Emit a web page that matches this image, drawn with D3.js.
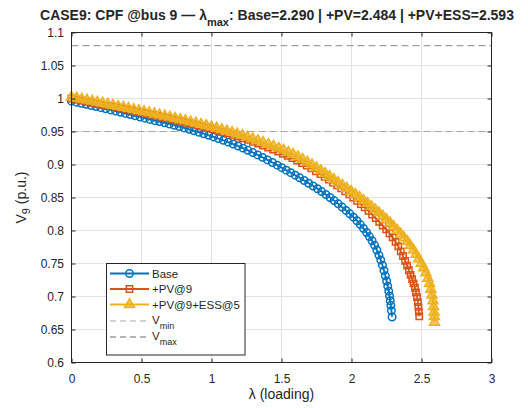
<!DOCTYPE html>
<html>
<head>
<meta charset="utf-8">
<script src="https://cdn.jsdelivr.net/npm/d3@7"></script>
<style>
    body { margin: 0; background: #fff; }
    svg text { font-family: "Liberation Sans", Arial, Helvetica, sans-serif; fill: #262626; }
</style>
</head>
<body>
<div id="chart"></div>
<script>
// CPF nose curves (lambda, V at bus 9)
const baseLambda = [0, 0.035, 0.07, 0.105, 0.14, 0.175, 0.21, 0.245, 0.28, 0.315, 0.35, 0.385, 0.42, 0.455, 0.49,
    0.525, 0.56, 0.595, 0.63, 0.665, 0.70, 0.735, 0.77, 0.805, 0.84, 0.875, 0.91, 0.945, 0.98,
    1.015, 1.05, 1.085, 1.12, 1.155, 1.19, 1.225, 1.26, 1.295, 1.33, 1.365, 1.40, 1.435, 1.47,
    1.502, 1.534, 1.566, 1.598, 1.63, 1.662, 1.694, 1.726, 1.757, 1.787, 1.817, 1.847, 1.876, 1.905, 1.933, 1.961, 1.988,
    2.014, 2.039, 2.063, 2.086, 2.108, 2.128, 2.147, 2.165, 2.181, 2.196, 2.209, 2.221, 2.232, 2.242,
    2.251, 2.259, 2.266, 2.272, 2.277, 2.281, 2.285, 2.290];
const baseV = [0.9960, 0.9944, 0.9928, 0.9911, 0.9894, 0.9878, 0.9861, 0.9844, 0.9827, 0.9809, 0.9792, 0.9774, 0.9756, 0.9738, 0.9720,
    0.9702, 0.9683, 0.9664, 0.9650, 0.9632, 0.9614, 0.9595, 0.9575, 0.9554, 0.9533, 0.9511, 0.9489, 0.9466, 0.9442,
    0.9418, 0.9393, 0.9367, 0.9339, 0.9310, 0.9280, 0.9248, 0.9215, 0.9181, 0.9145, 0.9108, 0.9070, 0.9030, 0.8990,
    0.8952, 0.8914, 0.8876, 0.8838, 0.8798, 0.8757, 0.8716, 0.8674, 0.8632, 0.8590, 0.8546, 0.8500, 0.8453, 0.8404, 0.8355, 0.8304, 0.8253,
    0.8202, 0.8148, 0.8090, 0.8031, 0.7970, 0.7908, 0.7844, 0.7775, 0.7704, 0.7627, 0.7554, 0.7475, 0.7394, 0.7313,
    0.7235, 0.7157, 0.7081, 0.7009, 0.6935, 0.6866, 0.6786, 0.6690];

const pvLambda = [0, 0.036, 0.072, 0.108, 0.144, 0.18, 0.216, 0.252, 0.288, 0.324, 0.36, 0.396, 0.432, 0.468,
    0.504, 0.54, 0.576, 0.612, 0.648, 0.684, 0.72, 0.756, 0.792, 0.828, 0.864, 0.90, 0.936, 0.972,
    1.008, 1.044, 1.08, 1.116, 1.152, 1.188, 1.224, 1.26, 1.296, 1.332, 1.368, 1.404, 1.44, 1.476,
    1.51, 1.544, 1.578, 1.612, 1.646, 1.68, 1.713, 1.746, 1.778, 1.808, 1.838, 1.868, 1.897, 1.926, 1.955, 1.984,
    2.012, 2.04, 2.067, 2.094, 2.121, 2.147, 2.173, 2.198, 2.223, 2.247, 2.271,
    2.294, 2.315, 2.334, 2.352, 2.368, 2.383, 2.397, 2.41, 2.422, 2.433, 2.443,
    2.453, 2.461, 2.468, 2.474, 2.478, 2.481, 2.484];
const pvV = [1.0000, 0.9984, 0.9968, 0.9952, 0.9936, 0.9919, 0.9903, 0.9887, 0.9880, 0.9865, 0.9850, 0.9834, 0.9818, 0.9802,
    0.9786, 0.9770, 0.9753, 0.9736, 0.9719, 0.9702, 0.9684, 0.9666, 0.9648, 0.9630, 0.9611, 0.9592, 0.9573, 0.9554,
    0.9535, 0.9514, 0.9493, 0.9471, 0.9448, 0.9423, 0.9398, 0.9372, 0.9344, 0.9316, 0.9286, 0.9256, 0.9225, 0.9194,
    0.9162, 0.9130, 0.9096, 0.9060, 0.9022, 0.8982, 0.8941, 0.8898, 0.8855, 0.8813, 0.8770, 0.8727, 0.8683, 0.8639, 0.8593, 0.8547,
    0.8500, 0.8451, 0.8402, 0.8351, 0.8297, 0.8243, 0.8187, 0.8131, 0.8074, 0.8017, 0.7958,
    0.7895, 0.7828, 0.7759, 0.7685, 0.7614, 0.7541, 0.7469, 0.7398, 0.7328, 0.7262, 0.7199,
    0.7133, 0.7062, 0.6990, 0.6916, 0.6843, 0.6770, 0.6700];

const essLambda = [0, 0.037, 0.074, 0.111, 0.148, 0.185, 0.222, 0.259, 0.296, 0.333, 0.37, 0.407, 0.444, 0.481,
    0.518, 0.555, 0.592, 0.629, 0.666, 0.703, 0.74, 0.777, 0.814, 0.851, 0.888, 0.925, 0.962, 0.999,
    1.036, 1.073, 1.11, 1.147, 1.184, 1.221, 1.258, 1.295, 1.332, 1.369, 1.406, 1.443, 1.48,
    1.515, 1.549, 1.583, 1.617, 1.651, 1.685, 1.718, 1.75, 1.781, 1.812, 1.843, 1.874, 1.905, 1.936, 1.967, 1.998,
    2.028, 2.057, 2.086, 2.114, 2.142, 2.17, 2.197, 2.224, 2.25, 2.276, 2.302, 2.327, 2.352, 2.376,
    2.399, 2.421, 2.442, 2.462, 2.481, 2.499, 2.516,
    2.532, 2.546, 2.5575, 2.567, 2.575, 2.5815, 2.5865, 2.5903, 2.5925, 2.593];
const essV = [1.0020, 1.0005, 0.9990, 0.9975, 0.9960, 0.9945, 0.9929, 0.9914, 0.9898, 0.9882, 0.9867, 0.9851, 0.9834, 0.9818,
    0.9802, 0.9786, 0.9769, 0.9752, 0.9735, 0.9717, 0.9700, 0.9682, 0.9664, 0.9646, 0.9627, 0.9608, 0.9590, 0.9571,
    0.9551, 0.9530, 0.9509, 0.9487, 0.9463, 0.9440, 0.9415, 0.9389, 0.9362, 0.9335, 0.9306, 0.9277, 0.9247,
    0.9217, 0.9186, 0.9153, 0.9117, 0.9078, 0.9036, 0.8994, 0.8950, 0.8906, 0.8863, 0.8818, 0.8774, 0.8729, 0.8684, 0.8639, 0.8593,
    0.8548, 0.8503, 0.8457, 0.8411, 0.8364, 0.8315, 0.8267, 0.8218, 0.8167, 0.8114, 0.8059, 0.8004, 0.7947, 0.7889,
    0.7832, 0.7770, 0.7705, 0.7639, 0.7571, 0.7502, 0.7433,
    0.7358, 0.7277, 0.7194, 0.7109, 0.7021, 0.6933, 0.6848, 0.6764, 0.6694, 0.6610];

const seriesNames = ["Base", "+PV@9", "+PV@9+ESS@5"];
const seriesColors = ["#0072BD", "#D95319", "#EDB120"];
const lambdaMax = [2.290, 2.484, 2.593];

const vMin = 0.95;
const vMax = 1.08;

const xTicks = [0, 0.5, 1, 1.5, 2, 2.5, 3];
const xTickLabels = ["0", "0.5", "1", "1.5", "2", "2.5", "3"];
const yTicks = [0.6, 0.65, 0.7, 0.75, 0.8, 0.85, 0.9, 0.95, 1.0, 1.05, 1.1];
const yTickLabels = ["0.6", "0.65", "0.7", "0.75", "0.8", "0.85", "0.9", "0.95", "1", "1.05", "1.1"];

const W = 528, H = 408;
const plot = {left: 71.5, right: 491.5, top: 32.5, bottom: 362.5};
const axisColor = "#262626";

const svg = d3.select("#chart").append("svg")
    .attr("width", W)
    .attr("height", H)
    .attr("viewBox", `0 0 ${W} ${H}`);

svg.append("rect").attr("width", W).attr("height", H).attr("fill", "#fff");

const x = d3.scaleLinear().domain([0, 3]).range([plot.left, plot.right]);
const y = d3.scaleLinear().domain([0.6, 1.1]).range([plot.bottom, plot.top]);

// grid
const grid = svg.append("g").attr("stroke", "#e3e3e3").attr("stroke-width", 1);
grid.selectAll(".gx").data(xTicks).enter().append("line")
    .attr("x1", d => x(d)).attr("x2", d => x(d))
    .attr("y1", plot.top).attr("y2", plot.bottom);
grid.selectAll(".gy").data(yTicks).enter().append("line")
    .attr("x1", plot.left).attr("x2", plot.right)
    .attr("y1", d => y(d)).attr("y2", d => y(d));

// voltage limits
const limits = [{v: vMin, color: "#a6a6a6"}, {v: vMax, color: "#8a8a8a"}];
svg.selectAll(".limit").data(limits).enter().append("line")
    .attr("x1", x(0)).attr("x2", x(3))
    .attr("y1", d => y(d.v)).attr("y2", d => y(d.v))
    .attr("stroke", d => d.color)
    .attr("stroke-width", 1)
    .attr("stroke-dasharray", "7,4");

// series
const series = [
    {name: seriesNames[0], color: seriesColors[0], symbol: d3.symbolCircle, size: 44, fill: "none", pts: d3.zip(baseLambda, baseV)},
    {name: seriesNames[1], color: seriesColors[1], symbol: d3.symbolSquare, size: 40, fill: "none", pts: d3.zip(pvLambda, pvV)},
    {name: seriesNames[2], color: seriesColors[2], symbol: d3.symbolTriangle, size: 44, fill: seriesColors[2], pts: d3.zip(essLambda, essV)}
];

const line = d3.line().x(d => x(d[0])).y(d => y(d[1]));

series.forEach(s => {
    const g = svg.append("g");
    g.append("path")
        .datum(s.pts)
        .attr("fill", "none")
        .attr("stroke", s.color)
        .attr("stroke-width", 1.8)
        .attr("d", line);
    const shape = d3.symbol().type(s.symbol).size(s.size)();
    g.selectAll("path.mk").data(s.pts).enter().append("path")
        .attr("class", "mk")
        .attr("d", shape)
        .attr("transform", d => `translate(${x(d[0])},${y(d[1])})`)
        .attr("fill", s.fill)
        .attr("fill-opacity", 0.7)
        .attr("stroke", s.color)
        .attr("stroke-width", 1.5);
});

// axes (ticks inside, box on)
function styleAxis(g) {
    g.select(".domain").remove();
    g.selectAll("line").attr("stroke", axisColor);
    g.selectAll("text").attr("fill", axisColor)
        .attr("font-family", "'Liberation Sans', Arial, sans-serif")
        .attr("font-size", 12);
}

svg.append("g").attr("transform", `translate(0,${plot.bottom})`)
    .call(d3.axisBottom(x).tickValues(xTicks).tickFormat((d, i) => xTickLabels[i])
        .tickSizeInner(-4).tickSizeOuter(0).tickPadding(12))
    .call(styleAxis);
svg.append("g").attr("transform", `translate(0,${plot.top})`)
    .call(d3.axisTop(x).tickValues(xTicks).tickFormat("").tickSizeInner(-4).tickSizeOuter(0))
    .call(styleAxis);
svg.append("g").attr("transform", `translate(${plot.left},0)`)
    .call(d3.axisLeft(y).tickValues(yTicks).tickFormat((d, i) => yTickLabels[i])
        .tickSizeInner(-4).tickSizeOuter(0).tickPadding(7.5))
    .call(styleAxis);
svg.append("g").attr("transform", `translate(${plot.right},0)`)
    .call(d3.axisRight(y).tickValues(yTicks).tickFormat("").tickSizeInner(-4).tickSizeOuter(0))
    .call(styleAxis);

svg.append("rect")
    .attr("x", plot.left).attr("y", plot.top)
    .attr("width", plot.right - plot.left).attr("height", plot.bottom - plot.top)
    .attr("fill", "none")
    .attr("stroke", axisColor)
    .attr("stroke-width", 1);

// labels
svg.append("text")
    .attr("x", (plot.left + plot.right) / 2)
    .attr("y", 399)
    .attr("text-anchor", "middle")
    .style("font-size", "14px")
    .text("λ (loading)");

const yLabel = svg.append("text")
    .attr("transform", `translate(26,${(plot.top + plot.bottom) / 2}) rotate(-90)`)
    .attr("text-anchor", "middle")
    .style("font-size", "14px");
yLabel.append("tspan").text("V");
yLabel.append("tspan").attr("dy", 4).style("font-size", "11px").text("9");
yLabel.append("tspan").attr("dy", -4).text(" (p.u.)");

const title = svg.append("text")
    .attr("x", 277)
    .attr("y", 20)
    .attr("text-anchor", "middle")
    .style("font-size", "14px")
    .style("font-weight", "bold");
title.append("tspan").text("CASE9: CPF @bus 9 — λ");
title.append("tspan").attr("dy", 6).style("font-size", "11px").text("max");
title.append("tspan").attr("dy", -6)
    .text(`: Base=${lambdaMax[0].toFixed(3)} | +PV=${lambdaMax[1].toFixed(3)} | +PV+ESS=${lambdaMax[2].toFixed(3)}`);

// legend
const lg = svg.append("g");
lg.append("rect")
    .attr("x", 106.5).attr("y", 263.5)
    .attr("width", 138.5).attr("height", 91.5)
    .attr("fill", "#fff")
    .attr("stroke", axisColor)
    .attr("stroke-width", 1);

const rows = [273.5, 289, 304.5, 321, 337];
series.forEach((s, i) => {
    const ry = rows[i];
    lg.append("line")
        .attr("x1", 110).attr("x2", 149).attr("y1", ry).attr("y2", ry)
        .attr("stroke", s.color).attr("stroke-width", 1.8);
    lg.append("path")
        .attr("d", d3.symbol().type(s.symbol).size(s.size)())
        .attr("transform", `translate(129.5,${ry})`)
        .attr("fill", s.fill).attr("fill-opacity", 0.7)
        .attr("stroke", s.color).attr("stroke-width", 1.5);
    lg.append("text")
        .attr("x", 152).attr("y", ry + 4)
        .style("font-size", "11.5px")
        .text(s.name);
});

const limitLabels = [{sub: "min", color: limits[0].color}, {sub: "max", color: "#6a6a6a"}];
limitLabels.forEach((l, i) => {
    const ry = rows[3 + i];
    lg.append("line")
        .attr("x1", 110).attr("x2", 149).attr("y1", ry).attr("y2", ry)
        .attr("stroke", l.color).attr("stroke-width", 1)
        .attr("stroke-dasharray", "6,4");
    const t = lg.append("text")
        .attr("x", 152).attr("y", ry + 3)
        .style("font-size", "11.5px");
    t.append("tspan").text("V");
    t.append("tspan").attr("dy", 5).style("font-size", "9px").text(l.sub);
});
</script>
</body>
</html>
